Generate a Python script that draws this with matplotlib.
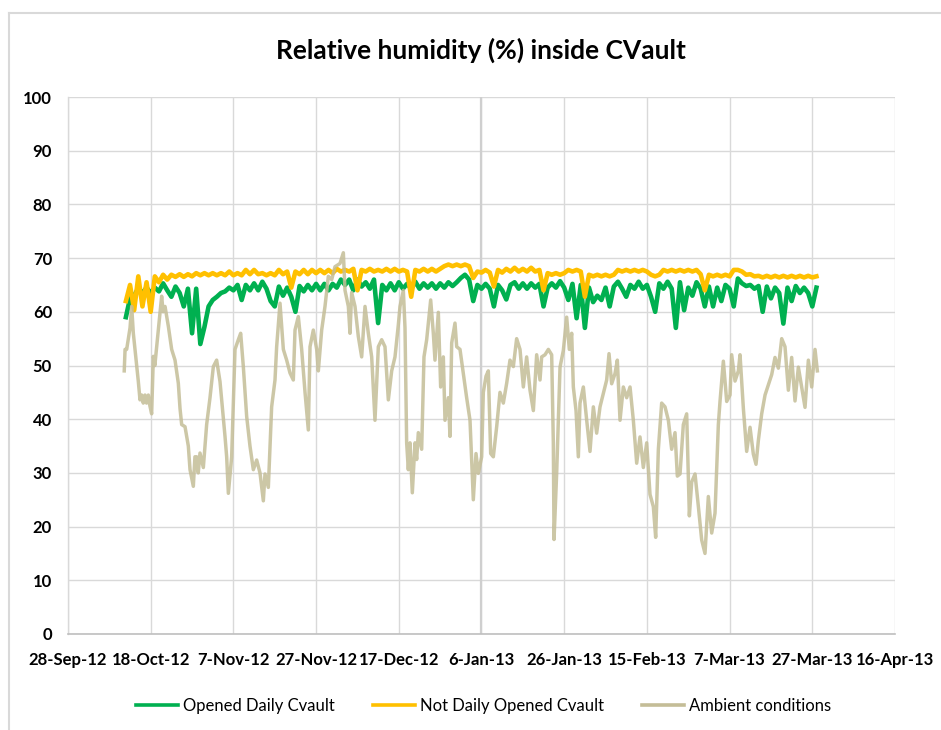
import datetime as dt
import numpy as np
import matplotlib
matplotlib.use("Agg")
import matplotlib.pyplot as plt
from matplotlib.lines import Line2D

plt.rcParams['font.family'] = ['Lato', 'DejaVu Sans']

# ---------------- data ----------------
start_date = dt.datetime(2012, 9, 28)
tick_labels = ['28-Sep-12', '18-Oct-12', '7-Nov-12', '27-Nov-12', '17-Dec-12', '6-Jan-13',
               '26-Jan-13', '15-Feb-13', '7-Mar-13', '27-Mar-13', '16-Apr-13']
tick_days = [0, 20, 40, 60, 80, 100, 120, 140, 160, 180, 200]

series_names = ['Opened Daily Cvault', 'Not Daily Opened Cvault', 'Ambient conditions']

# daily values (day offsets from 28-Sep-12), first day = 14
daily_first_day = 14
opened_daily = [59, 62.5, 63, 64.4, 63.5, 64.5, 63.5, 64.5, 63.8, 65.3, 64, 62.8, 64.7, 63.5, 61, 64.3,
                56, 64.3, 54, 57.2, 61, 62.2, 62.8, 63.5, 63.8, 64.5, 64, 65, 62.2, 65, 64, 65.3,
                64, 65.6, 64.3, 62, 61, 64.7, 63, 64.5, 62.8, 60, 64.8, 63.8, 65, 64, 65.2, 64,
                65.2, 64, 65.2, 64.5, 66, 65, 66, 64, 66, 64.7, 65.5, 64.3, 66, 57.9, 65, 64,
                65.3, 64, 65.5, 64.3, 65.2, 64.3, 65.6, 64.3, 65.3, 64.5, 65.3, 64.3, 65.3, 64.5, 65.5, 64.8,
                65.5, 66.3, 66.9, 66, 62, 65, 64.3, 65.2, 64.3, 61, 65, 64, 62.3, 65, 65.5, 64.3,
                65.3, 64.3, 65.3, 64.5, 65.2, 61, 64.5, 65.3, 64.5, 65.7, 64.5, 62.2, 65.2, 58.8, 65, 57,
                64.5, 61.8, 63, 62.2, 64.5, 61, 64.7, 65.6, 64.3, 62.8, 65, 64.3, 65.6, 64.3, 65, 62.8,
                60, 65.3, 64.3, 65.6, 64.3, 57, 65.5, 60.3, 64.5, 63, 65.5, 64.3, 61, 64.7, 61, 64.5,
                62, 65, 64.3, 61, 66.2, 65.3, 64.8, 65, 64.3, 64.8, 60, 64.7, 62.5, 64.5, 63.5, 57.8,
                64.5, 62, 64.8, 63.5, 64.5, 63.5, 61, 64.5]
not_daily_opened = [62, 65, 60.3, 66.6, 61, 65.5, 60, 66.6, 65.5, 66.9, 66, 66.9, 66.5, 67, 66.5, 67,
                    66.6, 67.2, 66.8, 67.2, 66.8, 67.2, 66.8, 67.2, 66.8, 67.5, 66.8, 67.2, 66.8, 67.8, 67, 67.8,
                    67, 67.2, 66.8, 67.2, 66.8, 67.8, 67, 67.5, 64.5, 67.5, 67, 67.8, 67, 67.8, 67.2, 67.8,
                    67.2, 67.8, 67.2, 68, 67.5, 67.8, 67.5, 68, 64, 67.8, 67.5, 68, 67.5, 67.8, 67.5, 68,
                    67.5, 68, 67.5, 67.8, 67.5, 62.8, 67.8, 67.5, 68, 67.5, 68, 67.5, 68, 68.5, 68.8, 68.5,
                    68.8, 68.5, 68.8, 68.5, 66.3, 67.5, 67.3, 67.8, 67.3, 64.7, 67.8, 67.3, 68, 67.5, 68.2, 67.5,
                    68, 67.5, 68.2, 67.5, 67.8, 64, 67.2, 66.9, 67.2, 66.9, 67.2, 67.8, 67.5, 67.8, 67.5, 62.8,
                    66.9, 66.6, 66.9, 66.6, 66.9, 66.6, 66.9, 67.8, 67.5, 67.8, 67.5, 67.8, 67.5, 67.8, 67.5, 66.9,
                    66.6, 66.9, 67.8, 67.5, 67.8, 67.5, 67.8, 67.5, 67.8, 67.5, 67.8, 67, 64, 66.9, 66.6, 66.9,
                    66.6, 66.9, 66.6, 67.8, 67.8, 67.5, 66.9, 67, 66.6, 66.7, 66.4, 66.7, 66.4, 66.7, 66.4, 66.7,
                    66.4, 66.7, 66.4, 66.7, 66.4, 66.7, 66.4, 66.6]

ambient_days = [13.6, 13.8, 14.19, 14.59, 15.0, 15.4, 15.8, 16.2, 17.01, 17.41, 17.82, 18.2, 18.62, 19.0,
                19.43, 19.8, 20.23, 20.64, 21.0, 21.44, 22.25, 22.65, 23.0, 23.46, 24.27, 25.07, 25.88,
                26.68, 27.09, 27.49, 28.3, 29.1, 29.51, 30.31, 30.7, 31.12, 31.5, 31.92, 32.73, 33.53,
                34.34, 35.15, 35.95, 36.76, 37.16, 37.97, 38.37, 38.78, 39.58, 40.39, 41.19, 41.76,
                42.4, 43.21, 44.01, 44.82, 45.63, 46.43, 47.24, 47.64, 48.45, 49.25, 50.06, 50.46,
                51.27, 52.08, 52.88, 53.69, 54.49, 54.9, 55.7, 56.51, 57.32, 58.12, 58.53, 59.33,
                60.14, 60.54, 61.35, 62.15, 62.96, 63.77, 64.57, 65.78, 66.59, 66.99, 67.8, 68.2,
                68.6, 69.41, 70.21, 71.02, 71.83, 72.63, 73.44, 74.24, 75.05, 75.86, 76.66, 77.47,
                78.28, 79.08, 79.89, 80.29, 81.1, 81.5, 81.9, 82.3, 82.71, 83.27, 83.92, 84.32,
                84.72, 85.53, 86.09, 86.74, 87.71, 88.35, 88.75, 89.56, 90.12, 90.77, 91.17, 91.98,
                92.38, 92.79, 93.59, 94.0, 94.8, 95.61, 96.41, 97.22, 98.02, 98.67, 99.23, 100.04,
                100.44, 101.09, 101.65, 102.22, 102.86, 103.67, 104.47, 105.28, 106.09, 106.89,
                107.7, 108.5, 109.31, 110.12, 110.92, 111.73, 112.54, 113.34, 114.15, 114.55,
                115.36, 116.17, 116.97, 117.37, 117.54, 118.18, 118.99, 119.79, 120.6, 121.24,
                121.81, 122.21, 122.86, 123.42, 123.82, 124.63, 125.44, 126.24, 127.05, 127.85,
                128.66, 129.47, 130.27, 130.84, 131.48, 132.29, 132.85, 133.5, 134.3, 135.11,
                135.92, 136.72, 137.53, 138.33, 139.14, 139.95, 140.75, 141.56, 142.12, 142.77,
                143.57, 144.38, 145.19, 145.99, 146.8, 147.36, 148.01, 148.81, 149.62, 150.27,
                150.83, 151.64, 152.44, 153.25, 154.05, 154.86, 155.67, 156.47, 157.28, 157.68,
                158.49, 159.3, 160.1, 160.5, 161.31, 162.12, 162.52, 163.33, 164.13, 164.94,
                165.74, 166.39, 166.95, 167.76, 168.57, 169.37, 170.18, 170.98, 171.79, 172.6,
                173.4, 174.21, 175.01, 175.82, 176.63, 177.43, 178.24, 179.05, 179.85, 180.66, 181.22]
ambient_values = [49, 53, 53, 55, 57, 61, 56, 53, 47, 43.6, 44.5, 43, 44.5, 43,
                  44.5, 42.5, 41, 51.7, 50, 53.5, 59.8, 62.9, 60, 61, 57.3, 53, 51,
                  46.7, 42, 39, 38.6, 35, 30.6, 27.5, 33, 33, 30, 33.7, 31, 39,
                  44, 49.8, 51, 47, 43.6, 36.8, 33, 26.2, 33, 53, 54.8, 56,
                  49.8, 40.5, 35, 30.6, 32.4, 30, 24.8, 29.8, 27.3, 42.3, 47.3, 53.5,
                  61.6, 53, 51, 48.6, 47.3, 56.6, 59.1, 53, 45, 38, 53.5, 56.6,
                  53, 49, 56.6, 61, 66.6, 66, 68.4, 69, 71, 64, 61, 56,
                  63.6, 61, 55.4, 51.6, 61, 56, 51.6, 39.8, 53.5, 54.8, 53.5, 43.6,
                  49, 51.6, 57.6, 61, 64, 57, 35.6, 30.6, 35.6, 26.3, 35.6, 32.5,
                  37.5, 34.4, 51.6, 54.8, 62.2, 56, 51, 59.9, 46, 51.6, 39.8, 44,
                  36.8, 54.2, 57.9, 53.5, 53, 48.4, 44, 39.8, 25, 33.6, 29.9, 33,
                  45, 48, 49, 33.6, 33, 38.6, 45, 43, 46.7, 51,
                  49.8, 55, 53, 46, 51.6, 45.4, 41.6, 52, 47.3, 51.6,
                  52, 53, 52, 35.6, 17.6, 30, 49.7, 52.8, 59, 53,
                  56, 46, 41.6, 33, 43, 46, 39.8, 34, 42.3, 37.4,
                  42.3, 44.8, 47.3, 52.2, 46.6, 48.5, 51, 39.8, 46, 44,
                  46, 39.8, 31.8, 36.7, 31, 35.6, 26, 23.7, 18, 34.4,
                  43, 42.3, 39.8, 34.4, 37.5, 29.4, 29.8, 39, 41, 22,
                  28.3, 29.8, 23.8, 17.5, 15, 25.6, 18.8, 22.5, 39, 43.3,
                  50.8, 43.3, 44.5, 52, 47.1, 49, 52, 42, 34, 38.5,
                  33.5, 31.6, 36, 41, 44.5, 46.4, 48.3, 51.5, 49.5, 55,
                  53.5, 45.4, 51.5, 43.4, 49.7, 46, 42.2, 51, 46, 53, 49]

colors = ['#00B050', '#FFC000', '#C4BD97']

# ---------------- figure ----------------
fig = plt.figure(figsize=(9.41, 7.30), dpi=100)
ax = fig.add_axes([68 / 941, 1 - 634 / 730, (895 - 68) / 941, (634 - 97) / 730])

def to_dates(days):
    return [start_date + dt.timedelta(days=float(d)) for d in days]

daily_days_g = [daily_first_day + i for i in range(len(opened_daily))]
daily_days_y = [daily_first_day + i for i in range(len(not_daily_opened))]

ax.plot(to_dates(daily_days_g), opened_daily, color=colors[0], lw=3.3, zorder=3)
ax.plot(to_dates(daily_days_y), not_daily_opened, color=colors[1], lw=3.3, zorder=4)
ax.plot(to_dates(ambient_days), ambient_values, color=colors[2], lw=2.5, alpha=0.85, zorder=5)

tick_dates = to_dates(tick_days)
ax.set_xlim(tick_dates[0], tick_dates[-1])
ax.set_ylim(0, 100)
ax.set_xticks(tick_dates)
ax.set_xticklabels(tick_labels)
ax.set_yticks(np.arange(0, 101, 10))

ax.grid(True, color='#D9D9D9', lw=1.0)
ax.set_axisbelow(True)
ax.axvline(tick_dates[5], color='#CFCFCF', lw=1.6, zorder=1)

for s in ['top', 'right']:
    ax.spines[s].set_visible(False)
ax.spines['left'].set_color('#D9D9D9')
ax.spines['bottom'].set_color('#BFBFBF')
ax.spines['left'].set_linewidth(1.0)
ax.spines['bottom'].set_linewidth(1.2)

ax.tick_params(axis='both', length=0, labelsize=12, colors='#000000')
ax.tick_params(axis='x', pad=13)
ax.tick_params(axis='y', pad=11.5)
for lab in ax.get_xticklabels() + ax.get_yticklabels():
    lab.set_fontweight('bold')

fig.text(0.511, 1 - 50 / 730, 'Relative humidity (%) inside CVault', ha='center', va='center',
         fontsize=19, fontweight='bold')

handles = [Line2D([0], [0], color=c, lw=2.6) for c in colors]
fig.legend(handles, series_names, loc='center', bbox_to_anchor=(0.514, 1 - 706 / 730),
           ncol=3, frameon=False, fontsize=12, handlelength=2.5, handletextpad=0.3,
           columnspacing=2.3)

# chart-area border (top and left visible)
fig.add_artist(Line2D([8.5 / 941, 8.5 / 941], [1 - 13 / 730, 0], transform=fig.transFigure,
                      color='#D9D9D9', lw=1.5))
fig.add_artist(Line2D([8.5 / 941, 1], [1 - 13 / 730, 1 - 13 / 730], transform=fig.transFigure,
                      color='#D9D9D9', lw=1.5))

fig.savefig('out.png', dpi=100)
